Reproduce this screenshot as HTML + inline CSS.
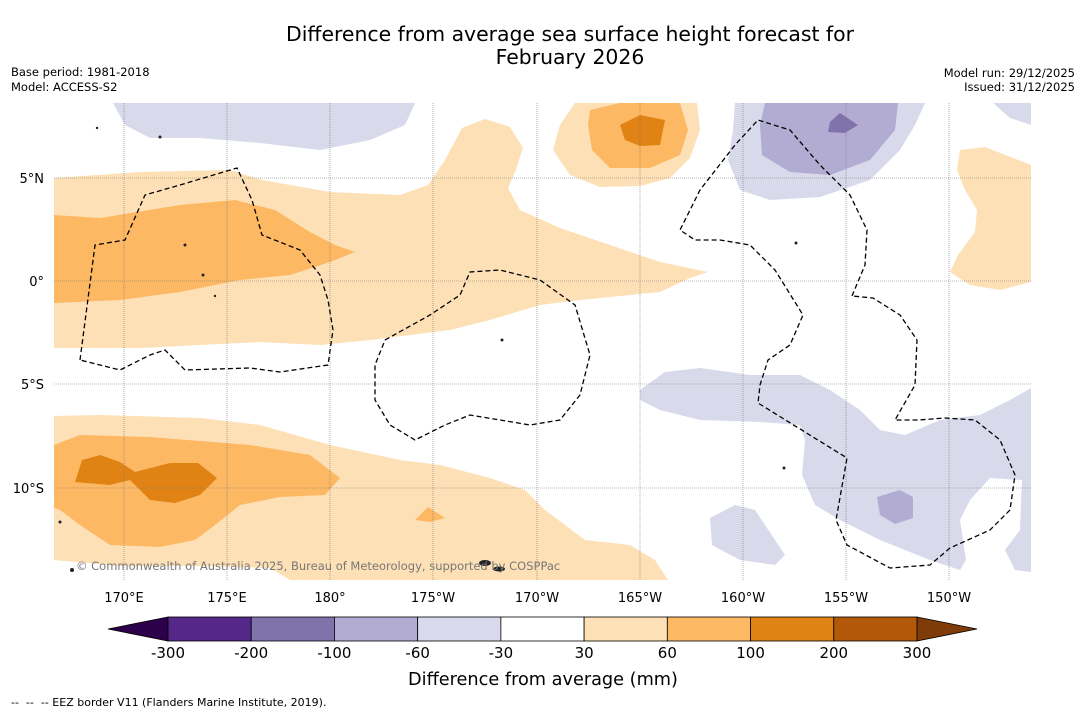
<!DOCTYPE html>
<html><head><meta charset="utf-8"><style>
body{margin:0;background:#fff;width:1085px;height:713px;overflow:hidden;font-family:"DejaVu Sans","Liberation Sans",sans-serif}
svg{display:block}
</style></head><body>
<svg width="1085" height="713" viewBox="0 0 1085 713" font-family="DejaVu Sans, Liberation Sans, sans-serif">
<text x="570" y="41" text-anchor="middle" font-size="20.4">Difference from average sea surface height forecast for</text>
<text x="570" y="64" text-anchor="middle" font-size="20.4">February 2026</text>
<text x="11" y="76" font-size="11.5">Base period: 1981-2018</text>
<text x="11" y="91" font-size="11.5">Model: ACCESS-S2</text>
<text x="1075" y="77" font-size="11.5" text-anchor="end">Model run: 29/12/2025</text>
<text x="1075" y="91" font-size="11.5" text-anchor="end">Issued: 31/12/2025</text>
<defs><clipPath id="mc"><rect x="54" y="103" width="977" height="477"/></clipPath></defs>
<g clip-path="url(#mc)">
<g fill="#fee0b6">
<path d="M54,178 L140,172 230,170 262,180 330,192 400,195 428,185 445,160 462,128 485,119 510,127 523,148 515,172 508,188 520,210 560,228 610,245 660,262 708,272 690,278 660,292 620,296 580,300 540,305 490,320 450,330 410,335 370,340 320,345 260,342 200,345 140,348 54,348Z"/>
<path d="M575,103 L697,103 700,130 690,158 670,178 640,186 600,187 570,175 553,150 560,125Z"/>
<path d="M960,150 L985,147 1031,165 1031,282 1000,290 970,285 950,272 958,255 975,232 977,210 965,190 957,170Z"/>
<path d="M54,416 L100,415 200,418 260,425 330,445 400,460 440,465 490,478 525,490 545,510 565,525 585,540 630,545 655,560 668,580 290,580 270,568 200,566 120,566 54,560Z"/>
</g>
<g fill="#fdb863">
<path d="M54,215 L100,218 180,205 235,200 275,210 310,232 335,245 355,252 330,262 290,275 240,280 180,292 120,300 54,303Z"/>
<path d="M590,110 L620,103 680,103 688,130 680,155 650,168 610,168 592,150 588,125Z"/>
<path d="M54,445 L80,435 150,437 250,445 310,455 340,478 325,495 280,497 240,505 215,525 195,540 160,547 110,545 80,525 60,510 54,508Z"/>
<path d="M415,520 L428,507 445,518 430,522Z"/>
</g>
<g fill="#e08214">
<path d="M620,125 L640,115 665,120 660,145 640,146 625,140Z"/>
<path d="M75,482 L82,460 100,455 120,462 135,472 170,463 198,463 217,478 200,495 175,503 150,500 130,480 110,485Z"/>
</g>
<g fill="#d8daeb">
<path d="M113,103 L415,103 405,125 370,140 320,150 260,143 200,138 150,138 125,125Z"/>
<path d="M735,103 L925,103 915,125 900,150 870,180 820,197 770,200 740,190 728,160 733,130Z"/>
<path d="M993,103 L1031,103 1031,125 1010,118Z"/>
<path d="M640,390 L665,372 700,368 750,375 800,375 830,390 860,410 880,430 905,435 940,420 980,415 1010,400 1031,388 1031,572 1015,570 1005,550 1020,530 1022,480 990,478 970,500 960,520 966,560 960,570 930,560 880,540 840,520 815,505 802,475 805,440 800,425 760,422 700,420 660,410 640,400Z"/>
<path d="M710,518 L735,505 755,510 785,555 775,565 740,560 712,545Z"/>
</g>
<g fill="#b2abd2">
<path d="M765,103 L898,103 895,130 870,160 830,175 790,172 762,155 760,125Z"/>
<path d="M877,497 L900,490 913,497 913,518 895,524 880,515Z"/>
</g>
<path fill="#8073ac" d="M830,122 L840,113 858,125 845,133 828,132Z"/>
<g stroke="#777" stroke-width="0.6" stroke-dasharray="1,1">
<line x1="124" y1="103" x2="124" y2="580"/><line x1="227" y1="103" x2="227" y2="580"/><line x1="330" y1="103" x2="330" y2="580"/><line x1="433" y1="103" x2="433" y2="580"/><line x1="537" y1="103" x2="537" y2="580"/><line x1="640" y1="103" x2="640" y2="580"/><line x1="743" y1="103" x2="743" y2="580"/><line x1="846" y1="103" x2="846" y2="580"/><line x1="949" y1="103" x2="949" y2="580"/>
<line x1="54" y1="178" x2="1031" y2="178"/><line x1="54" y1="281" x2="1031" y2="281"/><line x1="54" y1="384" x2="1031" y2="384"/><line x1="54" y1="488" x2="1031" y2="488"/>
</g>
<g fill="none" stroke="#000" stroke-width="1.3" stroke-dasharray="5,3">
<path d="M80,360 L95,245 125,240 145,195 180,185 237,168 252,200 262,235 300,250 320,275 328,300 333,330 328,365 280,372 250,368 185,370 165,350 150,355 120,370 80,360"/>
<path d="M385,340 L430,315 460,295 470,272 500,270 540,280 575,305 590,355 580,395 560,420 530,425 470,415 445,425 415,440 390,425 375,400 375,365 385,340"/>
<path d="M852,296 L865,265 867,230 850,195 820,165 790,130 758,120 735,145 700,190 680,230 695,240 720,240 750,245 775,270 803,315 790,345 768,360 760,385 758,403 847,458 836,520 847,545 890,568 930,565 950,548 990,530 1010,510 1015,475 1000,440 975,420 945,418 918,420 895,420 915,385 917,340 900,315 873,298 852,296"/>
</g>
<g fill="#222">
<ellipse cx="485" cy="563" rx="6" ry="3"/><ellipse cx="499" cy="569" rx="6" ry="2.5"/><circle cx="185" cy="245" r="1.5"/><circle cx="203" cy="275" r="1.5"/><circle cx="215" cy="296" r="1.2"/><circle cx="502" cy="340" r="1.5"/><circle cx="796" cy="243" r="1.5"/><circle cx="784" cy="468" r="1.5"/><circle cx="72" cy="570" r="2"/><circle cx="60" cy="522" r="1.5"/><circle cx="160" cy="137" r="1.5"/><circle cx="97" cy="128" r="1.2"/>
</g>
<text x="76" y="570" font-size="11.5" fill="#777">© Commonwealth of Australia 2025, Bureau of Meteorology, supported by COSPPac</text>
</g>
<g font-size="13" text-anchor="end">
<text x="44" y="183">5°N</text><text x="44" y="286">0°</text><text x="44" y="389">5°S</text><text x="44" y="493">10°S</text>
</g>
<g font-size="13" text-anchor="middle">
<text x="124" y="602">170°E</text><text x="227" y="602">175°E</text><text x="330" y="602">180°</text><text x="433" y="602">175°W</text><text x="537" y="602">170°W</text><text x="640" y="602">165°W</text><text x="743" y="602">160°W</text><text x="846" y="602">155°W</text><text x="949" y="602">150°W</text>
</g>
<g id="cb"></g>
<text x="543" y="685" font-size="17.7" text-anchor="middle">Difference from average (mm)</text>
<text x="11" y="706" font-size="11" xml:space="preserve">--  --  -- EEZ border V11 (Flanders Marine Institute, 2019).</text>
</svg>
<script>
const levels=[-300,-200,-100,-60,-30,30,60,100,200,300];
const colors=["#542788","#8073ac","#b2abd2","#d8daeb","#ffffff","#fee0b6","#fdb863","#e08214","#b35806"];
const extColors=["#2d004b","#7f3b08"];
const ns="http://www.w3.org/2000/svg";
const cb=document.getElementById('cb');
const x0=168,x1=917,y=617,h=24;
const step=(x1-x0)/colors.length;
function mk(t,a){const e=document.createElementNS(ns,t);for(const k in a)e.setAttribute(k,a[k]);cb.appendChild(e);return e;}
let p=mk('polygon',{points:`${x0},${y} ${x0-60},${y+h/2} ${x0},${y+h}`,fill:extColors[0],stroke:'#000','stroke-width':0.8});


p=mk('polygon',{points:`${x1},${y} ${x1+60},${y+h/2} ${x1},${y+h}`,fill:extColors[1],stroke:'#000','stroke-width':0.8});


colors.forEach((c,i)=>{
 const r=mk('rect',{x:x0+i*step,y:y,width:step,height:h,fill:c,stroke:'#000','stroke-width':0.8});
 
 
});
levels.forEach((v,i)=>{
 const t=mk('text',{x:x0+i*step,y:658,'font-size':15,'text-anchor':'middle'});
 t.textContent=v;
 
 
});
</script>
</body></html>
